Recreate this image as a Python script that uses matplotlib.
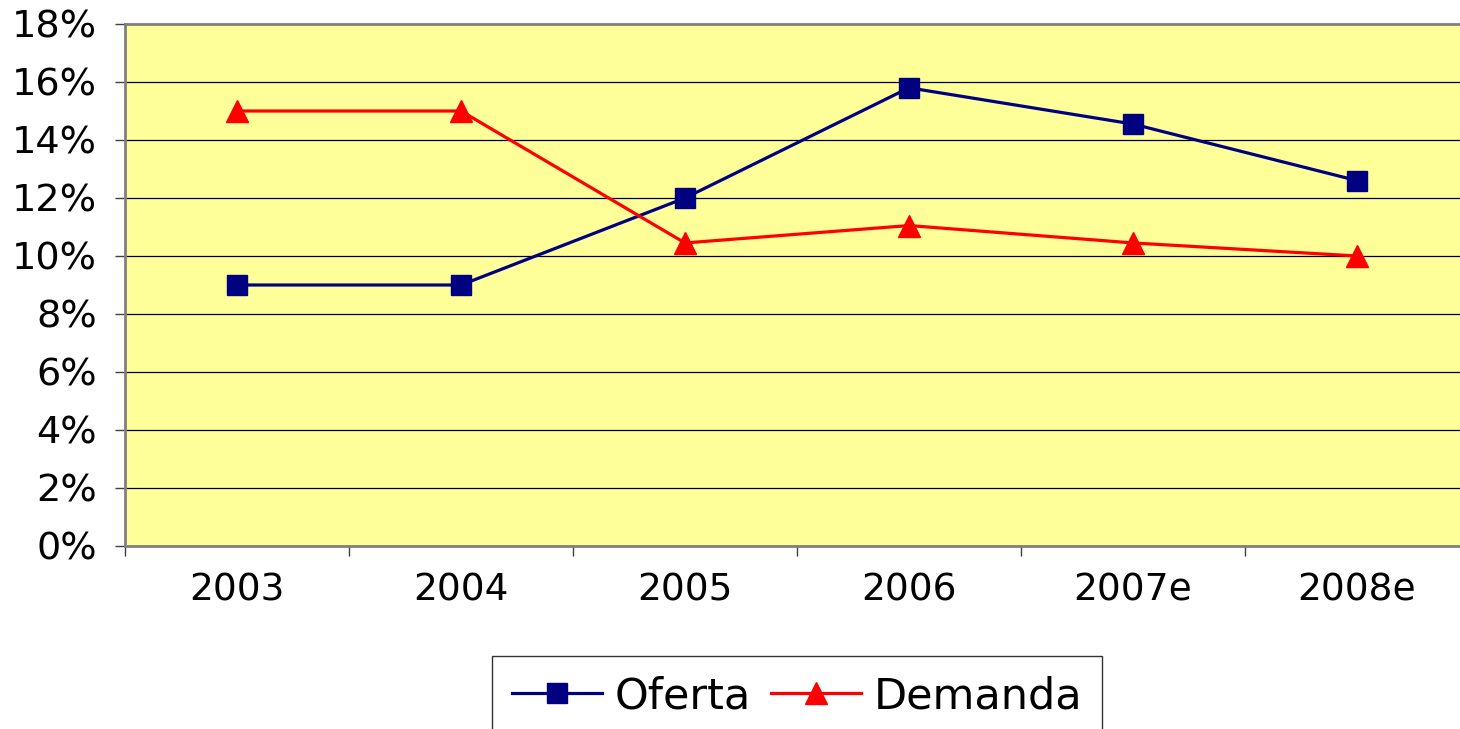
import matplotlib
matplotlib.use("Agg")
import matplotlib.pyplot as plt
from matplotlib.ticker import FixedLocator, PercentFormatter

categories = ["2003", "2004", "2005", "2006", "2007e", "2008e"]
oferta = [9.0, 9.0, 12.0, 15.8, 14.55, 12.6]
demanda = [15.0, 15.0, 10.45, 11.05, 10.45, 10.0]
yticks = [0, 2, 4, 6, 8, 10, 12, 14, 16, 18]

plt.rcParams['font.family'] = ['DejaVu Sans']

W, H = 1460, 729
fig = plt.figure(figsize=(W / 100, H / 100), dpi=100)
fig.patch.set_facecolor('white')

left, right, top, bottom = 125, 1469, 24, 546
ax = fig.add_axes([left / W, 1 - bottom / H, (right - left) / W, (bottom - top) / H])
ax.set_facecolor('#FFFF99')

x = list(range(len(categories)))
ax.plot(x, oferta, color='#000080', lw=2.3, marker='s', markersize=14,
        markerfacecolor='#000080', markeredgecolor='#000080', label='Oferta', zorder=3)
ax.plot(x, demanda, color='#FF0000', lw=2.3, marker='^', markersize=16,
        markerfacecolor='#FF0000', markeredgecolor='#FF0000', label='Demanda', zorder=3)

ax.set_xlim(-0.5, len(categories) - 0.5)
ax.set_ylim(0, 18)
ax.set_yticks(yticks)
ax.yaxis.set_major_formatter(PercentFormatter(decimals=0))
ax.set_xticks(x)
ax.set_xticklabels(categories)
ax.xaxis.set_minor_locator(FixedLocator([i - 0.5 for i in range(len(categories) + 1)]))

ax.tick_params(axis='y', which='major', length=7.2, width=1, color='#404040',
               labelsize=27.5, pad=13)
ax.tick_params(axis='x', which='major', length=0, labelsize=27, pad=19)
ax.tick_params(axis='x', which='minor', length=7.2, width=1, color='#404040')

ax.grid(axis='y', color='black', linewidth=0.9)
ax.set_axisbelow(True)

for side in ['left', 'top', 'bottom']:
    ax.spines[side].set_color('#808080')
    ax.spines[side].set_linewidth(2)
ax.spines['right'].set_visible(False)

leg = fig.legend(loc='upper center', bbox_to_anchor=(797 / W, 1 - 656 / H),
                 ncol=2, fontsize=31, frameon=True, fancybox=False,
                 edgecolor='black', borderaxespad=0, handlelength=2.1,
                 handletextpad=0.3, columnspacing=0.45, borderpad=0.45)
leg.get_frame().set_linewidth(1)
for line in leg.get_lines():
    line.set_linewidth(2.3)

fig.savefig('out.png', dpi=100, facecolor='white')
